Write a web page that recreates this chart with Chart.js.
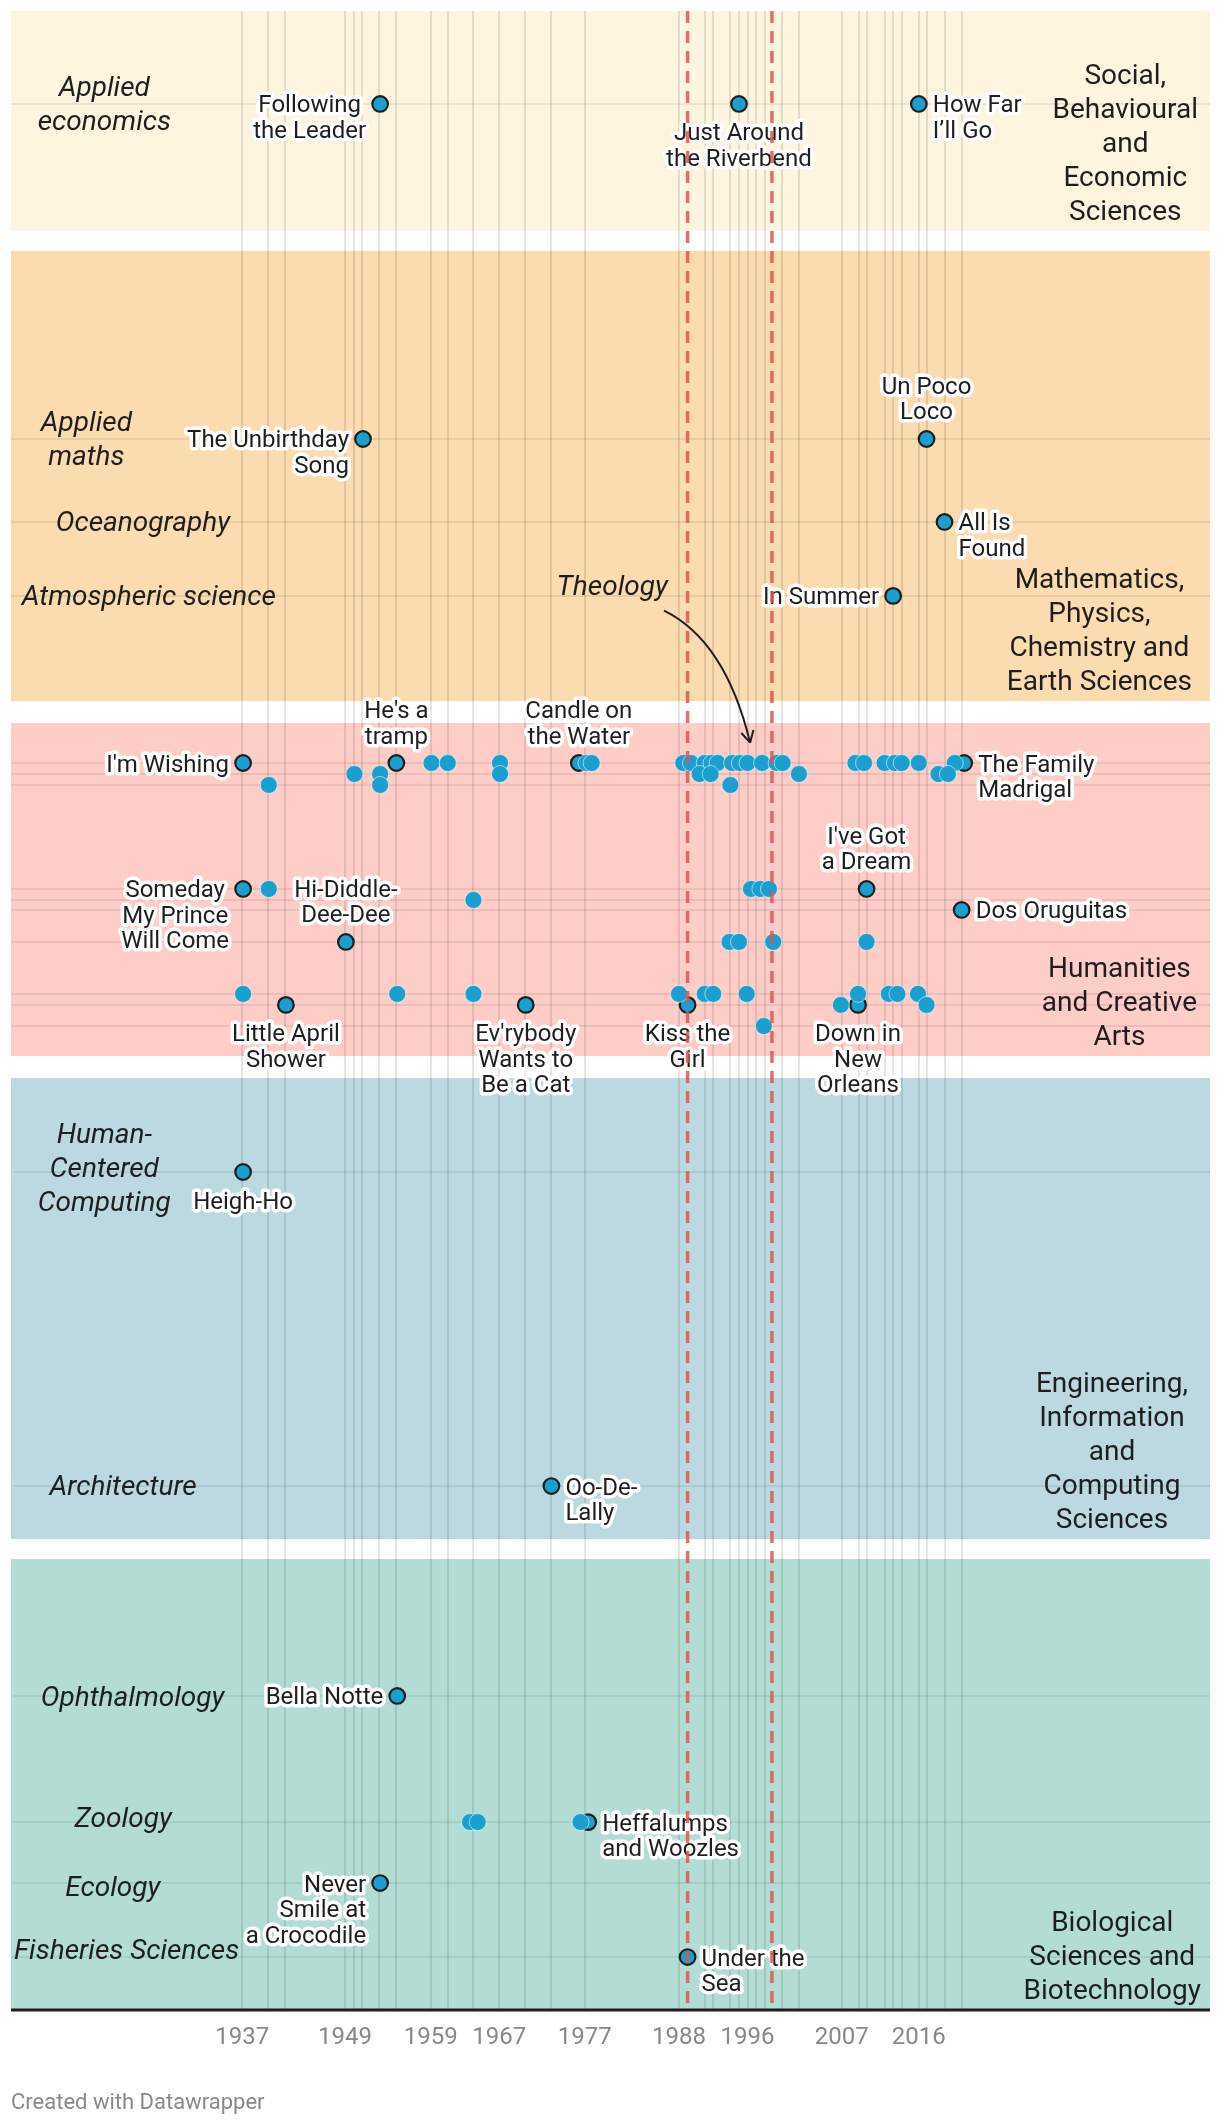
<!DOCTYPE html>
<html>
<head>
<meta charset="utf-8">
<script src="https://cdn.jsdelivr.net/npm/chart.js@4.4.1/dist/chart.umd.min.js"></script>
<style>
  html, body { margin: 0; padding: 0; background: #fff; }
  #wrap { position: relative; width: 1220px; height: 2126px; }
  #chart { position: absolute; left: 0; top: 0; }
  .credit { position: absolute; left: 11px; top: 2089px; font: 22px Roboto, sans-serif; color: #8a8a8a; }
</style>
</head>
<body>
<div id="wrap">
  <canvas id="chart" width="1220" height="2126"></canvas>
  <div class="credit">Created with Datawrapper</div>
</div>
<script>
// =============================================
//  DATA
// =============================================
// research fields (y-range on a 0-100 scale, top to bottom)
const fieldNames = [
  'Social,\nBehavioural\nand\nEconomic\nSciences',
  'Mathematics,\nPhysics,\nChemistry and\nEarth Sciences',
  'Humanities\nand Creative\nArts',
  'Engineering,\nInformation\nand\nComputing\nSciences',
  'Biological\nSciences and\nBiotechnology'
];
const fieldFrom = [0, 12.0, 35.62, 53.38, 77.44];
const fieldTo   = [11.0, 34.52, 52.28, 76.44, 100];

// disciplines (rows)
const rowKeys  = ['econ', 'maths', 'ocean', 'atmos', 'theo', 'hum2', 'hum3', 'hum4', 'hum5', 'hum6',
                  'hum7', 'hum8', 'hum9', 'hum10', 'hcc', 'arch', 'ophth', 'zoo', 'eco', 'fish'];
const rowPos   = [4.65, 21.41, 25.56, 29.26, 37.62, 38.17, 38.72, 43.92, 44.47, 44.97,
                  46.57, 49.17, 49.72, 50.78, 58.08, 73.79, 84.29, 90.60, 93.65, 97.35];
const rowNames = ['Applied\neconomics', 'Applied\nmaths', 'Oceanography', 'Atmospheric science', 'Theology',
                  '', '', '', '', '', '', '', '', '',
                  'Human-\nCentered\nComputing', 'Architecture', 'Ophthalmology', 'Zoology', 'Ecology', 'Fisheries Sciences'];

// labelled songs
const songTitles = [
  'Following\nthe Leader', 'Just Around\nthe Riverbend', 'How Far\nI’ll Go',
  'The Unbirthday\nSong', 'Un Poco\nLoco', 'All Is\nFound', 'In Summer',
  "I'm Wishing", "He's a\ntramp", 'Candle on\nthe Water', 'The Family\nMadrigal',
  'Someday\nMy Prince\nWill Come', "I've Got\na Dream", 'Dos Oruguitas', 'Hi-Diddle-\nDee-Dee',
  'Little April\nShower', "Ev'rybody\nWants to\nBe a Cat", 'Kiss the\nGirl', 'Down in\nNew\nOrleans',
  'Heigh-Ho', 'Oo-De-\nLally', 'Bella Notte', 'Heffalumps\nand Woozles', 'Never\nSmile at\na Crocodile', 'Under the\nSea'
];
const songYears = [1953.1, 1995.0, 2016.0, 1951.1, 2016.9, 2019.0, 2013.0,
                   1937.1, 1955.0, 1976.3, 2021.3, 1937.1, 2009.9, 2021.0, 1949.1,
                   1942.1, 1970.1, 1989.0, 2008.9, 1937.1, 1973.1, 1955.1, 1977.4, 1953.1, 1989.0];
const songRows  = ['econ', 'econ', 'econ', 'maths', 'maths', 'ocean', 'atmos',
                   'theo', 'theo', 'theo', 'theo', 'hum4', 'hum4', 'hum6', 'hum7',
                   'hum9', 'hum9', 'hum9', 'hum9', 'hcc', 'arch', 'ophth', 'zoo', 'eco', 'fish'];

// other (unlabelled) songs, grouped by row
const extraRowKeys  = ['theo', 'hum2', 'hum3', 'hum4', 'hum5', 'hum7', 'hum8', 'hum9', 'hum10', 'zoo'];
const extraRowYears = [
  [1959.1, 1961.0, 1967.1, 1977.2, 1977.8, 1988.5, 1989.4, 1991.0, 1991.8, 1992.5, 1994.2, 1995.1,
   1996.0, 1997.7, 1999.4, 2000.1, 2008.6, 2009.6, 2012.0, 2013.2, 2014.0, 2016.0, 2020.2],
  [1950.1, 1953.1, 1967.1, 1990.4, 1991.7, 2002.0, 2018.3, 2019.4],
  [1940.1, 1953.1, 1994.0],
  [1940.1, 1996.4, 1997.5, 1998.5],
  [1964.0],
  [1993.9, 1995.0, 1999.0, 2009.9],
  [1937.1, 1955.1, 1964.0, 1988.0, 1991.0, 1992.0, 1995.9, 2008.9, 2012.5, 2013.5, 2015.9],
  [2006.9, 2016.9],
  [1997.9],
  [1963.6, 1964.5, 1976.5]
];

const gridYears = [1937, 1940, 1942, 1949, 1950, 1951, 1953, 1955, 1959, 1961, 1964, 1967, 1970, 1973, 1977,
                   1988, 1991, 1992, 1994, 1995, 1996, 1997, 1998, 2000, 2002, 2007, 2009, 2010, 2012, 2013,
                   2014, 2016, 2017, 2019, 2021];
const tickYears = [1937, 1949, 1959, 1967, 1977, 1988, 1996, 2007, 2016];
const markerYears = [1989.0, 1998.85];   // dashed lines

// =============================================
//  LAYOUT / STYLE
// =============================================
const fieldColors = ['#fef5e1', '#fbdbb0', '#ffcdc8', '#bcd9e1', '#b3ddd4'];
const fieldLabelInset = [12, 18, 13, 22, 9];   // px from right edge
const dotColor = '#1a9fce';
const textColor = '#1e1e1e';

// label side (l/r/t/b) and text alignment per labelled song
const labelSide  = ['l', 'b', 'r', 'l', 't', 'r', 'l', 'l', 't', 't', 'r', 'l', 't', 'r', 't',
                    'b', 'b', 'b', 'b', 'b', 'r', 'l', 'r', 'l', 'r'];
const labelAlign = ['center', 'center', 'left', 'right', 'center', 'left', 'right', 'right', 'center', 'center',
                    'left', 'center', 'center', 'left', 'center', 'center', 'center', 'center', 'center', 'center',
                    'left', 'right', 'left', 'right', 'left'];

// row label anchor: [x in years, y shift px]
const rowLabelAt = {
  econ: [1920.9, 2], maths: [1918.8, 2], ocean: [1925.4, 2], atmos: [1926.1, 2],
  hcc: [1920.9, -2], arch: [1923.1, 2], ophth: [1924.2, 3], zoo: [1923.1, -2], eco: [1921.9, 6], fish: [1923.5, -5]
};
const theologyNote = { x: 1980.2, y: 28.86, from: [1986.25, 30.0], ctrl: [1993.4, 31.5], to: [1996.3, 36.6] };

const rowY = key => rowPos[rowKeys.indexOf(key)];

// =============================================
//  DRAWING HELPERS
// =============================================
function haloText(ctx, lines, x, y, side, align) {
  const lh = 25.5, gap = 14, off = 28, nudge = 2.5;
  ctx.font = '24px Roboto';
  const w = Math.max(...lines.map(l => ctx.measureText(l).width));
  let left, top;
  if (side === 'l')      { left = x - gap - w; top = y; }
  else if (side === 'r') { left = x + gap;     top = y; }
  else if (side === 't') { left = x - w / 2;   top = y - off - (lines.length - 1) * lh; }
  else                   { left = x - w / 2;   top = y + off; }

  const pos = lines.map((l, i) => {
    const lw = ctx.measureText(l).width;
    const lx = align === 'left' ? left : align === 'right' ? left + w - lw : left + (w - lw) / 2;
    return [l, lx, top + nudge + i * lh];
  });
  ctx.textAlign = 'left';
  ctx.textBaseline = 'middle';
  ctx.lineJoin = 'round';
  ctx.lineWidth = 7;
  ctx.strokeStyle = '#fff';
  pos.forEach(([l, lx, ly]) => ctx.strokeText(l, lx, ly));
  ctx.fillStyle = textColor;
  pos.forEach(([l, lx, ly]) => ctx.fillText(l, lx, ly));
}

function blockText(ctx, text, cx, cy, lh) {
  const lines = text.split('\n');
  const y0 = cy - (lines.length - 1) * lh / 2;
  lines.forEach((l, i) => ctx.fillText(l, cx, y0 + i * lh));
}

const decorations = {
  id: 'decorations',
  beforeDatasetsDraw(chart) {
    const { ctx, chartArea: a, scales: { x, y } } = chart;
    ctx.save();

    // field bands
    fieldNames.forEach((n, i) => {
      const t = y.getPixelForValue(fieldFrom[i]);
      const b = y.getPixelForValue(fieldTo[i]);
      ctx.fillStyle = fieldColors[i];
      ctx.fillRect(a.left, t, a.right - a.left, b - t);
    });

    // grid
    ctx.lineWidth = 2;
    ctx.strokeStyle = 'rgba(0,0,0,0.07)';
    rowPos.forEach(v => {
      const yy = Math.round(y.getPixelForValue(v));
      ctx.beginPath(); ctx.moveTo(a.left, yy); ctx.lineTo(a.right, yy); ctx.stroke();
    });
    ctx.strokeStyle = 'rgba(0,0,0,0.1)';
    gridYears.forEach(v => {
      const xx = Math.round(x.getPixelForValue(v));
      ctx.beginPath(); ctx.moveTo(xx, a.top); ctx.lineTo(xx, a.bottom); ctx.stroke();
    });

    // field labels, bottom-right of each band
    ctx.font = '28px Roboto';
    ctx.fillStyle = textColor;
    ctx.textAlign = 'center';
    ctx.textBaseline = 'middle';
    fieldNames.forEach((name, i) => {
      const lines = name.split('\n');
      const w = Math.max(...lines.map(l => ctx.measureText(l).width));
      const cx = a.right - fieldLabelInset[i] - w / 2;
      const last = y.getPixelForValue(fieldTo[i]) - 18;
      lines.forEach((l, j) => ctx.fillText(l, cx, last - (lines.length - 1 - j) * 34));
    });

    // discipline labels
    ctx.font = 'italic 28px Roboto';
    rowKeys.forEach((k, i) => {
      const at = rowLabelAt[k];
      if (!at || !rowNames[i]) return;
      blockText(ctx, rowNames[i], x.getPixelForValue(at[0]), y.getPixelForValue(rowPos[i]) + at[1], 34);
    });

    // Theology note + arrow
    const t = theologyNote;
    ctx.fillText(rowNames[rowKeys.indexOf('theo')], x.getPixelForValue(t.x), y.getPixelForValue(t.y));
    const p0 = [x.getPixelForValue(t.from[0]), y.getPixelForValue(t.from[1])];
    const pc = [x.getPixelForValue(t.ctrl[0]), y.getPixelForValue(t.ctrl[1])];
    const p1 = [x.getPixelForValue(t.to[0]), y.getPixelForValue(t.to[1])];
    ctx.strokeStyle = textColor;
    ctx.lineWidth = 2;
    ctx.beginPath();
    ctx.moveTo(p0[0], p0[1]);
    ctx.quadraticCurveTo(pc[0], pc[1], p1[0], p1[1]);
    ctx.stroke();
    const ang = Math.atan2(p1[1] - pc[1], p1[0] - pc[0]);
    ctx.beginPath();
    [-0.5, 0.5].forEach(d => {
      ctx.moveTo(p1[0], p1[1]);
      ctx.lineTo(p1[0] - 13 * Math.cos(ang + d), p1[1] - 13 * Math.sin(ang + d));
    });
    ctx.stroke();

    ctx.restore();
  },
  afterDatasetsDraw(chart) {
    const { ctx, chartArea: a, scales: { x, y } } = chart;
    ctx.save();

    // song labels
    songTitles.forEach((title, i) => {
      haloText(ctx, title.split('\n'), x.getPixelForValue(songYears[i]), y.getPixelForValue(rowY(songRows[i])),
        labelSide[i], labelAlign[i]);
    });

    // dashed markers
    ctx.strokeStyle = 'rgba(217,88,84,0.85)';
    ctx.lineWidth = 3.5;
    ctx.setLineDash([12, 8]);
    markerYears.forEach(v => {
      const xx = x.getPixelForValue(v);
      ctx.beginPath(); ctx.moveTo(xx, a.top); ctx.lineTo(xx, a.bottom); ctx.stroke();
    });
    ctx.setLineDash([]);

    // baseline
    ctx.strokeStyle = '#1e1e1e';
    ctx.lineWidth = 3;
    ctx.beginPath(); ctx.moveTo(a.left, a.bottom); ctx.lineTo(a.right, a.bottom); ctx.stroke();
    ctx.restore();
  }
};

// =============================================
//  CHART
// =============================================
function build() {
  const extraPoints = [];
  extraRowKeys.forEach((k, i) => extraRowYears[i].forEach(yr => extraPoints.push({ x: yr, y: rowY(k) })));
  const songPoints = songYears.map((yr, i) => ({ x: yr, y: rowY(songRows[i]) }));

  new Chart(document.getElementById('chart'), {
    type: 'scatter',
    data: {
      datasets: [
        { data: extraPoints, backgroundColor: dotColor, borderColor: 'rgba(255,255,255,0.55)', borderWidth: 1, pointRadius: 8.5, pointHoverRadius: 8.5 },
        { data: songPoints, backgroundColor: dotColor, borderColor: '#1e1e1e', borderWidth: 2.2, pointRadius: 7.8, pointHoverRadius: 7.8 }
      ]
    },
    options: {
      responsive: false,
      animation: false,
      events: [],
      layout: { padding: { left: 11, right: 10, top: 11, bottom: 66 } },
      plugins: { legend: { display: false }, tooltip: { enabled: false } },
      scales: {
        x: {
          type: 'linear', min: 1910, max: 2050,
          grid: { display: false }, border: { display: false },
          afterBuildTicks: s => { s.ticks = tickYears.map(v => ({ value: v })); },
          afterFit: s => { s.height = 50; },
          ticks: {
            autoSkip: false, maxRotation: 0, padding: 6, color: '#888',
            font: { family: 'Roboto', size: 24 },
            callback: v => String(v)
          }
        },
        y: { type: 'linear', min: 0, max: 100, reverse: true, display: false }
      }
    },
    plugins: [decorations]
  });
}

Promise.all(['24px Roboto', '28px Roboto', 'italic 28px Roboto'].map(f => document.fonts.load(f)))
  .catch(() => {})
  .then(build);
</script>
</body>
</html>
